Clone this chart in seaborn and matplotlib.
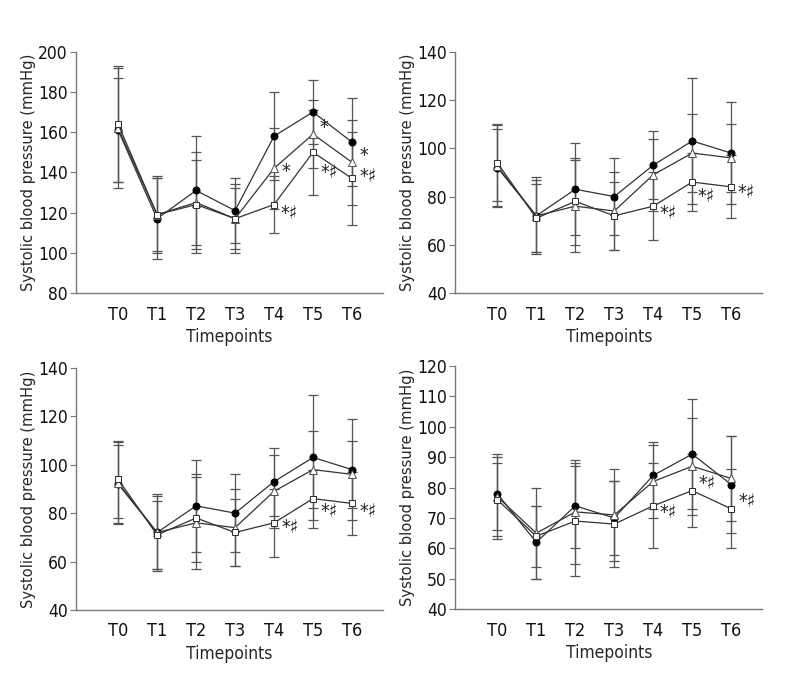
import numpy as np
import pandas as pd
import seaborn as sns
import matplotlib
matplotlib.use('Agg')
import matplotlib.pyplot as plt

# Données (moyenne et écart-type par groupe)
timepoints = ['T0', 'T1', 'T2', 'T3', 'T4', 'T5', 'T6']
groups = ['circle', 'triangle', 'square']

# panneau A
a_circle = [161, 117, 131, 121, 158, 170, 155]
a_circle_sd = [26, 20, 27, 16, 22, 16, 22]
a_triangle = [162, 119, 125, 117, 142, 159, 145]
a_triangle_sd = [30, 19, 25, 17, 20, 17, 21]
a_square = [164, 119, 124, 117, 124, 150, 137]
a_square_sd = [29, 18, 22, 15, 14, 21, 23]

# panneaux B et C (mêmes valeurs)
b_circle = [92, 72, 83, 80, 93, 103, 98]
b_circle_sd = [16, 16, 19, 16, 14, 26, 21]
b_triangle = [92.5, 72, 76, 74, 89, 98, 96]
b_triangle_sd = [17, 15, 19, 16, 15, 16, 14]
b_square = [94, 71, 78, 72, 76, 86, 84]
b_square_sd = [16, 14, 18, 14, 14, 12, 13]

# panneau D
d_circle = [78, 62, 74, 70, 84, 91, 81]
d_circle_sd = [12, 12, 14, 12, 11, 18, 16]
d_triangle = [77, 65, 72, 71, 82, 87, 83]
d_triangle_sd = [14, 15, 17, 15, 12, 16, 14]
d_square = [76, 64, 69, 68, 74, 79, 73]
d_square_sd = [12, 10, 18, 14, 14, 12, 13]

# annotations : (index temps, groupe, texte)
a_marks = [(4, 'triangle', '*'), (4, 'square', '*♯'), (5, 'triangle', '*'),
           (5, 'square', '*♯'), (6, 'triangle', '*'), (6, 'square', '*♯')]
b_marks = [(4, 'square', '*♯'), (5, 'square', '*♯'), (6, 'square', '*♯')]
d_marks = [(4, 'square', '*♯'), (5, 'square', '*♯'), (6, 'square', '*♯')]

sns.set_style('ticks')
plt.rcParams['font.family'] = ['DejaVu Sans']
plt.rcParams['font.stretch'] = 'condensed'


def make_df(circle, circle_sd, triangle, triangle_sd, square, square_sd):
    rows = []
    for g, m, s in [('circle', circle, circle_sd), ('triangle', triangle, triangle_sd),
                    ('square', square, square_sd)]:
        for i in range(len(timepoints)):
            rows.append({'t': i, 'value': m[i], 'sd': s[i], 'group': g})
    return pd.DataFrame(rows)


styles = {
    'circle': dict(marker='o', markerfacecolor='black', markeredgecolor='black', markersize=5),
    'triangle': dict(marker='^', markerfacecolor='white', markeredgecolor='#555555', markersize=5.5),
    'square': dict(marker='s', markerfacecolor='white', markeredgecolor='#333333', markersize=4.6),
}


def draw_panel(ax, df, ymin, ymax, ystep, marks, offsets):
    for g in groups:
        d = df[df['group'] == g]
        ax.errorbar(d['t'], d['value'], yerr=d['sd'], fmt='none', ecolor='#555555',
                    elinewidth=0.9, capsize=3.5, capthick=0.9, zorder=1)
    for g in groups:
        d = df[df['group'] == g]
        sns.lineplot(x=d['t'], y=d['value'], ax=ax, color='#333333', linewidth=0.9,
                     zorder=3, **styles[g])
    for (i, g, txt), (dx, dy) in zip(marks, offsets):
        v = df[(df['group'] == g) & (df['t'] == i)]['value'].iloc[0]
        ax.annotate(txt, (i, v), xytext=(dx, -dy), textcoords='offset pixels',
                    ha='left', va='center', fontsize=14, color='#222222')
    ax.set_xlim(-1.08, 6.8)
    ax.set_ylim(ymin, ymax)
    ax.set_yticks(np.arange(ymin, ymax + 1, ystep))
    ax.set_xticks(range(len(timepoints)))
    ax.set_xticklabels(timepoints)
    ax.tick_params(axis='x', length=0, labelsize=13, pad=9, colors='#111111')
    ax.tick_params(axis='y', length=4, width=0.8, labelsize=12.5, pad=2, colors='#111111')
    ax.tick_params(axis='y', color='#777777')
    for sp in ['top', 'right']:
        ax.spines[sp].set_visible(False)
    for sp in ['left', 'bottom']:
        ax.spines[sp].set_color('#777777')
        ax.spines[sp].set_linewidth(1.0)
    ax.set_xlabel('Timepoints', fontsize=12.5, labelpad=3)
    ax.set_ylabel('Systolic blood pressure (mmHg)', fontsize=11.8, labelpad=1.5)


fig = plt.figure(figsize=(8, 6.8), dpi=100)
ax1 = fig.add_axes([0.095, 0.569, 0.384, 0.355])
ax2 = fig.add_axes([0.569, 0.569, 0.384, 0.355])
ax3 = fig.add_axes([0.095, 0.103, 0.384, 0.356])
ax4 = fig.add_axes([0.569, 0.104, 0.384, 0.358])

df_a = make_df(a_circle, a_circle_sd, a_triangle, a_triangle_sd, a_square, a_square_sd)
df_b = make_df(b_circle, b_circle_sd, b_triangle, b_triangle_sd, b_square, b_square_sd)
df_d = make_df(d_circle, d_circle_sd, d_triangle, d_triangle_sd, d_square, d_square_sd)

draw_panel(ax1, df_a, 80, 200, 20, a_marks,
           [(7, 3), (6, 9), (6, -7), (7, 20), (7, -7), (7, -2)])
draw_panel(ax2, df_b, 40, 140, 20, b_marks, [(6, 7), (5, 14), (6, 6)])
draw_panel(ax3, df_b, 40, 140, 20, b_marks, [(7, 5), (7, 13), (7, 8)])
draw_panel(ax4, df_d, 40, 120, 10, d_marks, [(6, 7), (6, -7), (7, -7)])

fig.savefig('out.png', dpi=100)
